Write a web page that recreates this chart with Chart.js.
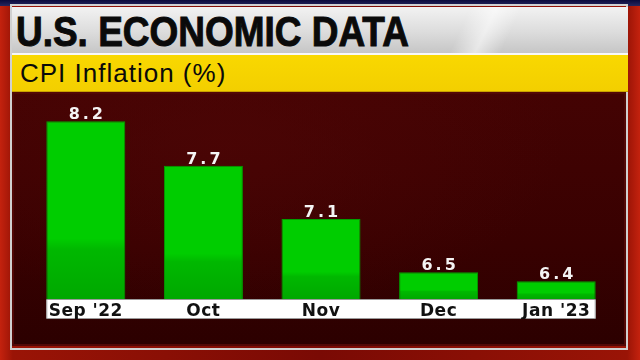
<!DOCTYPE html>
<html>
<head>
<meta charset="utf-8">
<script src="https://cdn.jsdelivr.net/npm/chart.js@4.4.1/dist/chart.umd.min.js"></script>
<style>
  html, body { margin: 0; padding: 0; }
  body {
    width: 640px; height: 360px; overflow: hidden; position: relative;
    background: linear-gradient(90deg, #c4220e 0%, #9a1406 2%, #7a0a04 50%, #9a1406 98%, #c4220e 100%);
  }
  #topstrip { position: absolute; left: 0; top: 0; width: 640px; height: 6px; background: linear-gradient(#0a0a3c, #26265e); }
  #silver { position: absolute; left: 10px; top: 4px; width: 614px; height: 342px; border: 2px solid #d0d0d0; }
  #panel {
    position: absolute; left: 12px; top: 92px; width: 610px; height: 250px;
    border: 2px solid #520806;
    background:
      radial-gradient(ellipse at 35% 20%, rgba(80,6,6,0.6) 0%, rgba(0,0,0,0) 60%),
      linear-gradient(#440303, #380101 60%, #2c0000);
  }
  #titlebar {
    position: absolute; left: 12px; top: 7px; width: 616px; height: 46px;
    background:
      linear-gradient(115deg, rgba(255,255,255,0) 72%, rgba(255,255,255,0.55) 76%, rgba(255,255,255,0) 80%),
      linear-gradient(#f2f2f2, #dcdcdc 55%, #c6c6c6);
    border-bottom: 2px solid #f8f8f8;
  }
  #titlebar span {
    position: absolute; left: 4px; top: 1px;
    font: bold 42px "Liberation Sans", Arial, sans-serif; color: #0a0a0a;
    -webkit-text-stroke: 1px #0a0a0a;
    transform: scaleX(0.88); transform-origin: left top; white-space: nowrap;
  }
  #subbar {
    position: absolute; left: 12px; top: 55px; width: 616px; height: 36px;
    background: linear-gradient(#f9d800, #f3cf00);
    border-bottom: 1px solid #c9a200;
  }
  #subbar span {
    position: absolute; left: 8px; top: 3px;
    font: 26px "Liberation Sans", Arial, sans-serif; color: #0a0a0a; letter-spacing: 1px; white-space: nowrap;
  }
  #wrap { position: absolute; left: 0; top: 0; width: 640px; height: 360px; }
</style>
</head>
<body>
<div id="topstrip"></div>
<div id="silver"></div>
<div id="panel"></div>
<div id="titlebar"><span>U.S. ECONOMIC DATA</span></div>
<div id="subbar"><span>CPI Inflation (%)</span></div>
<div id="wrap"><canvas id="myChart" width="640" height="360"></canvas></div>

<script>
// datos
const categories = ["Sep '22", 'Oct', 'Nov', 'Dec', "Jan '23"];
const cpiValues = [8.2, 7.7, 7.1, 6.5, 6.4];
const valueLabels = ['8.2', '7.7', '7.1', '6.5', '6.4'];
const yMin = 6.2;
const yMax = 8.45;

// degradado verde de cada barra (parte baja mas oscura)
function barGradient(context) {
  const chart = context.chart;
  const area = chart.chartArea;
  if (!area) return '#00cc00';
  const top = chart.scales.y.getPixelForValue(context.raw);
  const g = chart.ctx.createLinearGradient(0, top, 0, area.bottom);
  g.addColorStop(0, '#00cd00');
  g.addColorStop(0.66, '#00cd00');
  g.addColorStop(0.72, '#00b800');
  g.addColorStop(1, '#00a800');
  return g;
}

// banda blanca debajo de las barras
const labelBand = {
  id: 'labelBand',
  beforeDraw(chart) {
    const ctx = chart.ctx;
    const bars = chart.getDatasetMeta(0).data;
    const first = bars[0], last = bars[bars.length - 1];
    const x0 = first.x - first.width / 2;
    const x1 = last.x + last.width / 2;
    const y0 = chart.chartArea.bottom;
    ctx.save();
    ctx.fillStyle = '#ffffff';
    ctx.fillRect(x0, y0 + 1, x1 - x0, 18);
    ctx.strokeStyle = '#9a9a9a';
    ctx.lineWidth = 1;
    ctx.strokeRect(x0 + 0.5, y0 + 0.5, x1 - x0 - 1, 19);
    ctx.restore();
    ctx.letterSpacing = '0.5px';
  },
  afterDraw(chart) {
    chart.ctx.letterSpacing = '0px';
  }
};

// valores encima de cada barra
const valueTags = {
  id: 'valueTags',
  afterDatasetsDraw(chart) {
    const ctx = chart.ctx;
    const bars = chart.getDatasetMeta(0).data;
    ctx.save();
    ctx.font = 'bold 16px "DejaVu Sans"';
    ctx.fillStyle = '#f4f4f4';
    ctx.textAlign = 'center';
    ctx.textBaseline = 'alphabetic';
    ctx.letterSpacing = '3px';
    bars.forEach((bar, i) => {
      ctx.fillText(valueLabels[i], bar.x + 1.5, bar.y - 2);
    });
    ctx.restore();
  }
};

const data = {
  labels: categories,
  datasets: [{
    label: 'CPI Inflation (%)',
    data: cpiValues,
    backgroundColor: barGradient,
    borderColor: '#009e00',
    borderWidth: 1,
    borderSkipped: false,
    barPercentage: 0.672,
    categoryPercentage: 1
  }]
};

const configData = {
  type: 'bar',
  data: data,
  options: {
    responsive: false,
    animation: false,
    events: [],
    layout: { padding: { left: 27, right: 25, top: 99, bottom: 41 } },
    plugins: {
      legend: { display: false },
      tooltip: { enabled: false }
    },
    scales: {
      y: { display: false, min: yMin, max: yMax },
      x: {
        grid: { display: false, drawTicks: false },
        border: { display: false },
        ticks: { color: '#111111', padding: 2, font: { family: 'DejaVu Sans', size: 17, weight: 'bold' } },
        afterFit: (axis) => { axis.height = 20; }
      }
    }
  },
  plugins: [labelBand, valueTags]
};

const chartDOM = document.getElementById('myChart');
new Chart(chartDOM, configData);
</script>
</body>
</html>
